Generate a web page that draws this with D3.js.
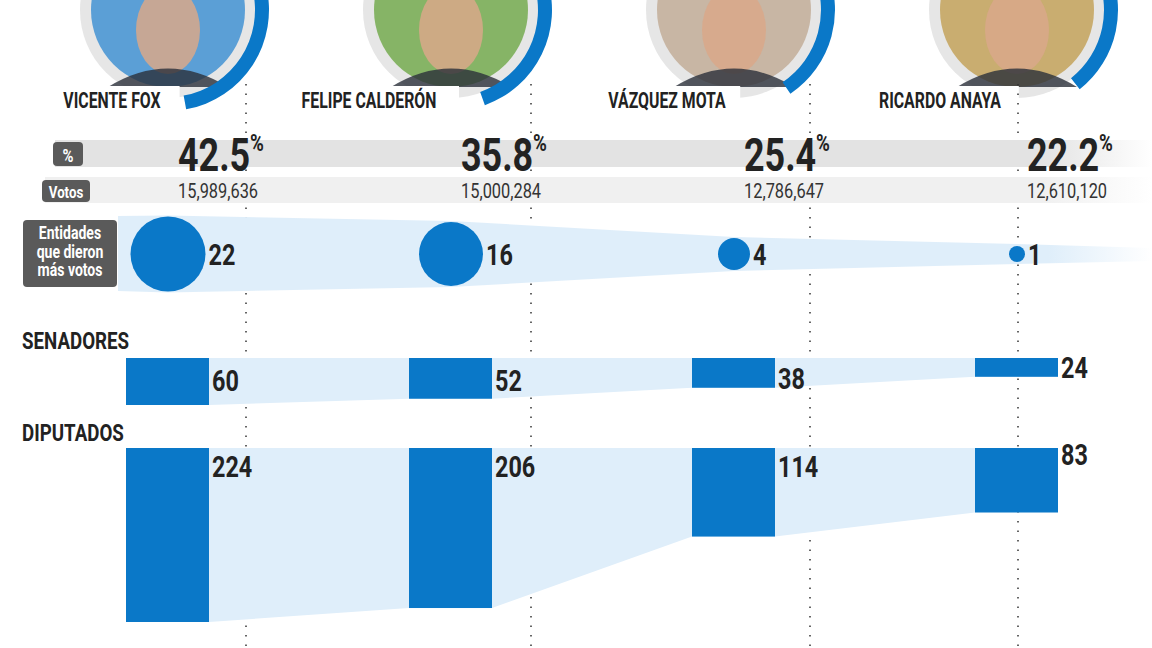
<!DOCTYPE html>
<html><head><meta charset="utf-8">
<script src="https://cdn.jsdelivr.net/npm/d3@7"></script>
<style>body{margin:0;background:#fff}svg{display:block}</style>
</head><body>
<script>
const candidates = ["VICENTE FOX","FELIPE CALDERÓN","VÁZQUEZ MOTA","RICARDO ANAYA"];
const percent = [42.5,35.8,25.4,22.2];
const votes = ["15,989,636","15,000,284","12,786,647","12,610,120"];
const entidades = [22,16,4,1];
const senadores = [60,52,38,24];
const diputados = [224,206,114,83];
const photoTint = ["#5b9fd6","#86b466","#c8b6a4","#c9ad70"];

const W=1152,H=648, BLUE="#0a78c8", LIGHT="#dfeefa", DARK="#222";
const FONT='"Roboto","Liberation Sans",sans-serif';
const svg=d3.select("body").append("svg").attr("width",W).attr("height",H).style("font-family",FONT);
const x=d3.scalePoint().domain(candidates).range([168,1017]);
const lineOff=[78,80,76,1];
const nameOff=[-56,-82,-67,-77];
const SX=0.78;
// condensed text helper
function txt(px,py,s,fs,opt={}){
  return svg.append("text").attr("transform",`translate(${px},${py}) scale(${opt.sx||SX},1)`)
    .attr("text-anchor",opt.anchor||"start").attr("font-size",fs).attr("font-weight",opt.w||"bold")
    .attr("fill",opt.fill||DARK).text(s);
}

const defs=svg.append("defs");
function fade(id,c){const g=defs.append("linearGradient").attr("id",id);
 g.append("stop").attr("offset","0.9").attr("stop-color",c);
 g.append("stop").attr("offset","1").attr("stop-color",c).attr("stop-opacity",0);}
fade("g1","#e3e3e3");fade("g2","#f0f0f0");fade("g3",LIGHT);

// portraits
const arc=d3.arc();
candidates.forEach((c,i)=>{
  const cx=x(c), cy=10;
  svg.append("circle").attr("cx",cx).attr("cy",cy).attr("r",88).attr("fill","#e6e6e6");
  svg.append("circle").attr("cx",cx).attr("cy",cy).attr("r",77).attr("fill",photoTint[i]);
  svg.append("ellipse").attr("cx",cx).attr("cy",cy+20).attr("rx",32).attr("ry",44).attr("fill","#d9a88a").attr("opacity",0.85);
  svg.append("path").attr("d",`M${cx-60},${cy+77} Q${cx},${cy+40} ${cx+60},${cy+77} Z`).attr("fill","#2a2f3a").attr("opacity",0.8);
  const end=(111+1.38*percent[i])*Math.PI/180;
  svg.append("path").attr("transform",`translate(${cx},${cy})`)
    .attr("d",arc({innerRadius:87,outerRadius:101,startAngle:-0.3,endAngle:end})).attr("fill",BLUE);
  const bw=c.length*11.2;
  const nx=cx+nameOff[i];
  svg.append("rect").attr("x",nx-bw/2-6).attr("y",86).attr("width",bw+12).attr("height",26).attr("fill","#fff");
  txt(nx,108,c,22,{anchor:"middle",sx:0.72});
});

// dotted lines
candidates.forEach((c,i)=>{
  svg.append("line").attr("x1",x(c)+lineOff[i]).attr("x2",x(c)+lineOff[i]).attr("y1",84).attr("y2",H)
   .attr("stroke","#333").attr("stroke-width",1.5).attr("stroke-dasharray","1.5,8");
});

svg.append("rect").attr("x",55).attr("y",140).attr("width",W-55).attr("height",27).attr("fill","url(#g1)");
svg.append("rect").attr("x",45).attr("y",177).attr("width",W-45).attr("height",26).attr("fill","url(#g2)");
function label(x0,y0,w,h,lines,fs){
  svg.append("rect").attr("x",x0).attr("y",y0).attr("width",w).attr("height",h).attr("rx",4).attr("fill","#5a5a5a");
  lines.forEach((l,k)=>txt(x0+w/2,y0+fs+1+k*(fs+0.5),l,fs,{anchor:"middle",fill:"#fff"}));
}
label(53,142,30,24,["%"],19);
label(42,180,48,22,["Votos"],17);

candidates.forEach((c,i)=>{
  txt(x(c)+10,171,percent[i].toFixed(1),46);
  txt(x(c)+10+72,151,"%",24);
  txt(x(c)+10,198,votes[i],21,{w:"normal",fill:"#333"});
});

// entidades
const r=d3.scaleSqrt().domain([0,22]).range([0,37.5]);
const ecy=254;
const topPts=[[118,216]], botPts=[[118,291]];
candidates.forEach((c,i)=>{const h=Math.max(r(entidades[i])+1,10);topPts.push([x(c),ecy-h]);botPts.push([x(c),ecy+h]);});
topPts.push([W,248]);botPts.push([W,261]);
svg.append("path").attr("d",d3.line()(topPts.concat(botPts.reverse()))+"Z").attr("fill","url(#g3)");
label(23,220,94,67,["Entidades","que dieron","más votos"],18);
candidates.forEach((c,i)=>{
  svg.append("circle").attr("cx",x(c)).attr("cy",ecy).attr("r",r(entidades[i])).attr("fill",BLUE);
  txt(x(c)+r(entidades[i])+3,265,entidades[i],30);
});

function barSection(title,ty,top,vals,scale,labelY){
  txt(22,ty,title,24);
  const bw=83, pts=[];
  candidates.forEach((c,i)=>{pts.push([x(c)-42,top+scale(vals[i])]);pts.push([x(c)-42+bw,top+scale(vals[i])]);});
  const poly=[[x(candidates[0])-42,top],[x(candidates[3])-42+bw,top]].concat(pts.reverse());
  svg.append("path").attr("d",d3.line()(poly)+"Z").attr("fill",LIGHT);
  candidates.forEach((c,i)=>{
    svg.append("rect").attr("x",x(c)-42).attr("y",top).attr("width",bw).attr("height",scale(vals[i])).attr("fill",BLUE);
    txt(x(c)-42+bw+3,labelY(vals[i]),vals[i],30);
  });
}
const sScale=d3.scaleLinear().domain([0,60]).range([0,47]);
barSection("SENADORES",349,358,senadores,sScale,v=>358+Math.min(sScale(v),32)+1);
const dScale=d3.scaleLinear().domain([0,224]).range([0,174]);
barSection("DIPUTADOS",441,448,diputados,dScale,v=>v<100?465:477);
</script>
</body></html>
